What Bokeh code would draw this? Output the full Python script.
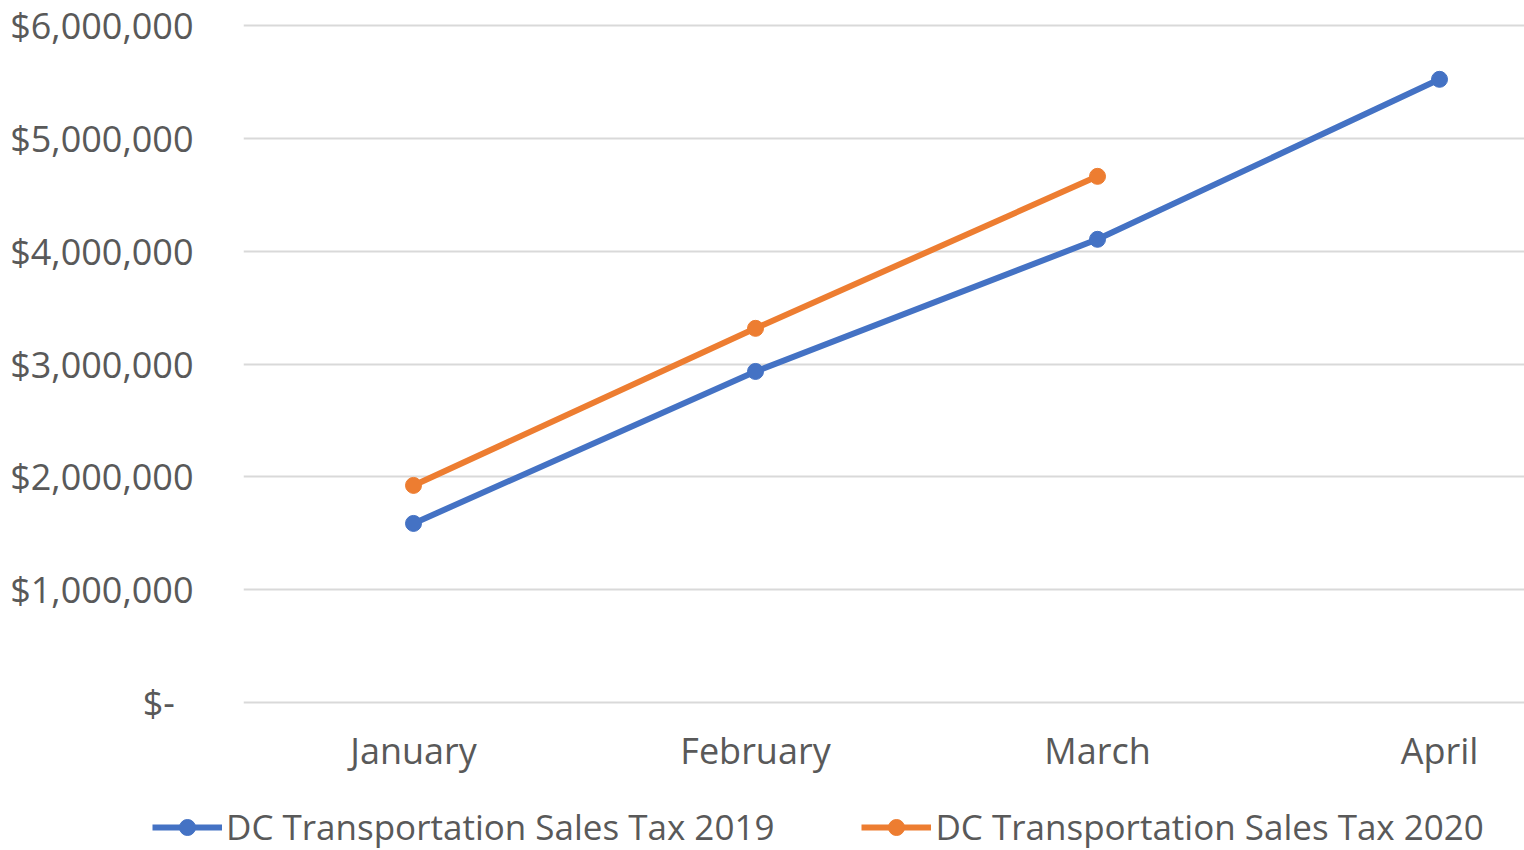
from bokeh.plotting import figure
from bokeh.layouts import column, row
from bokeh.models import ColumnDataSource, Range1d, FixedTicker, Legend, LegendItem
from bokeh.embed import file_html
from bokeh.resources import INLINE

months = ["January", "February", "March", "April"]
tax_2019 = [1587000, 2934000, 4105000, 5523000]
tax_2020 = [1924000, 3316000, 4663000]
y_ticks = [0, 1000000, 2000000, 3000000, 4000000, 5000000, 6000000]
y_labels = ["$-\u00a0\u00a0", "$1,000,000", "$2,000,000", "$3,000,000", "$4,000,000", "$5,000,000", "$6,000,000"]
series_names = ["DC Transportation Sales Tax 2019", "DC Transportation Sales Tax 2020"]

BLUE = "#4472C4"
ORANGE = "#ED7D31"
TXT = "#595959"
FONT = "Open Sans"
FS = "36px"

src19 = ColumnDataSource(dict(x=list(range(len(tax_2019))), y=tax_2019))
src20 = ColumnDataSource(dict(x=list(range(len(tax_2020))), y=tax_2020))

W = 1524
H_CHART = 790
H_LEG = 60

p = figure(width=W, height=H_CHART, output_backend="svg", toolbar_location=None,
           x_range=Range1d(-0.4971, 3.2485), y_range=Range1d(-53177, 6044315),
           min_border_left=243, min_border_right=0, min_border_top=20, min_border_bottom=82)
p.outline_line_color = None
p.background_fill_color = "white"
p.border_fill_color = "white"

p.line("x", "y", source=src19, line_color=BLUE, line_width=6)
p.scatter("x", "y", source=src19, size=16, fill_color=BLUE, line_color=BLUE)
p.line("x", "y", source=src20, line_color=ORANGE, line_width=6)
p.scatter("x", "y", source=src20, size=16, fill_color=ORANGE, line_color=ORANGE)

p.xaxis.ticker = FixedTicker(ticks=list(range(len(months))))
p.xaxis.major_label_overrides = {i: m for i, m in enumerate(months)}
p.yaxis.ticker = FixedTicker(ticks=y_ticks)
p.yaxis.major_label_overrides = {t: l for t, l in zip(y_ticks, y_labels)}
for ax in (p.xaxis, p.yaxis):
    ax.axis_line_color = None
    ax.major_tick_line_color = None
    ax.minor_tick_line_color = None
    ax.major_label_text_font = FONT
    ax.major_label_text_font_size = FS
    ax.major_label_text_color = TXT
p.yaxis.major_label_standoff = 44
p.xaxis.major_label_standoff = 11

p.xgrid.grid_line_color = None
p.ygrid.ticker = FixedTicker(ticks=y_ticks)
p.ygrid.grid_line_color = "#D9D9D9"
p.ygrid.grid_line_width = 2

# legend strip below the chart (series renderers fall outside this strip's ranges)
q = figure(width=W, height=H_LEG, output_backend="svg", toolbar_location=None,
           x_range=Range1d(100, 200), y_range=Range1d(-100, -50),
           x_axis_type=None, y_axis_type=None,
           min_border_left=0, min_border_right=0, min_border_top=0, min_border_bottom=0)
q.outline_line_color = None
q.xgrid.grid_line_color = None
q.ygrid.grid_line_color = None
ql19 = q.line("x", "y", source=src19, line_color=BLUE, line_width=6)
qs19 = q.scatter("x", "y", source=src19, size=16, fill_color=BLUE, line_color=BLUE)
ql20 = q.line("x", "y", source=src20, line_color=ORANGE, line_width=6)
qs20 = q.scatter("x", "y", source=src20, size=16, fill_color=ORANGE, line_color=ORANGE)

legend = Legend(items=[
    LegendItem(label=series_names[0], renderers=[ql19, qs19]),
    LegendItem(label=series_names[1], renderers=[ql20, qs20]),
], orientation="horizontal", location=(152, 0))
legend.label_text_font = FONT
legend.label_text_font_size = "35px"
legend.label_text_color = TXT
legend.glyph_width = 70
legend.glyph_height = 40
legend.label_standoff = 4
legend.spacing = 87
legend.padding = 0
legend.margin = 0
legend.border_line_color = None
legend.background_fill_alpha = 0
q.add_layout(legend, "center")

layout = column(p, row(q), spacing=0)
open("out.html", "w").write(file_html(layout, INLINE))
